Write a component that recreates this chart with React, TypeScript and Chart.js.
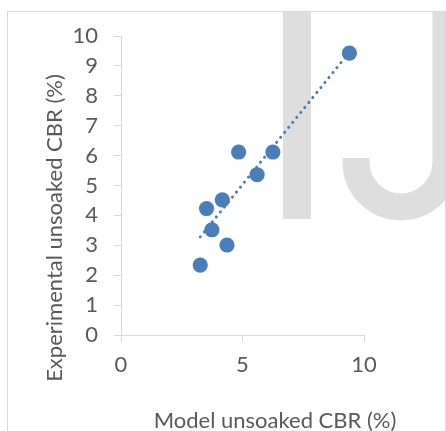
import React, { useEffect, useRef } from "react";
import { Chart, registerables } from "chart.js";

Chart.register(...registerables);

// Data
const modelCBR = [9.4, 4.84, 6.25, 5.6, 4.17, 3.52, 3.74, 4.36, 3.26];
const experimentalCBR = [9.43, 6.12, 6.12, 5.36, 4.52, 4.23, 3.52, 3.01, 2.34];
const trendX = [3.26, 9.4];
const trendY = [3.28, 9.46];
const xTickValues = [0, 5, 10];
const yTickValues = [0, 1, 2, 3, 4, 5, 6, 7, 8, 9, 10];
const xTitle = "Model unsoaked CBR (%)";
const yTitle = "Experimental unsoaked CBR (%)";

const BLUE = "#4a7ebb";
const GREY_TEXT = "#595959";
const AXIS = "#d9d9d9";
const WATERMARK = "#dedede";
const FONT = "Lato";

const decor = {
  id: "decor",
  beforeDatasetsDraw(chart: any) {
    const ctx = chart.ctx as CanvasRenderingContext2D;
    ctx.save();
    // watermark "IJ"
    ctx.fillStyle = WATERMARK;
    ctx.fillRect(283, 12, 28, 207);
    ctx.strokeStyle = WATERMARK;
    ctx.lineWidth = 27;
    ctx.lineCap = "butt";
    ctx.beginPath();
    ctx.moveTo(446, 12);
    ctx.lineTo(446, 162);
    ctx.arc(401, 162, 45, 0, Math.PI, false);
    ctx.lineTo(356, 158);
    ctx.stroke();
    // frame
    ctx.strokeStyle = AXIS;
    ctx.lineWidth = 1;
    ctx.strokeRect(7.5, 11.5, 438, 600);
    // axis titles
    ctx.fillStyle = GREY_TEXT;
    ctx.font = `22px ${FONT}`;
    ctx.textAlign = "center";
    ctx.textBaseline = "alphabetic";
    ctx.fillText(xTitle, 275, 427.5);
    ctx.translate(62, 228);
    ctx.rotate(-Math.PI / 2);
    ctx.fillText(yTitle, 0, 0);
    ctx.restore();
  },
};

export default function App() {
  const ref = useRef<HTMLCanvasElement | null>(null);
  useEffect(() => {
    document.body.style.margin = "0";
    if (!ref.current) return;
    const chart = new Chart(ref.current, {
      type: "scatter",
      data: {
        datasets: [
          {
            label: "Trend",
            data: trendX.map((x, i) => ({ x, y: trendY[i] })),
            showLine: true,
            borderColor: BLUE,
            borderWidth: 3,
            borderDash: [0.1, 6.3],
            borderCapStyle: "round",
            pointRadius: 0,
            order: 0,
          },
          {
            label: "CBR",
            data: modelCBR.map((x, i) => ({ x, y: experimentalCBR[i] })),
            backgroundColor: BLUE,
            borderColor: BLUE,
            borderWidth: 0,
            pointRadius: 7.6,
            order: 1,
          },
        ],
      },
      options: {
        responsive: false,
        animation: false,
        events: [],
        layout: { padding: { top: 36, right: 82, left: 0, bottom: 0 } },
        plugins: { legend: { display: false }, tooltip: { enabled: false } },
        scales: {
          x: {
            type: "linear",
            min: 0,
            max: 10,
            afterBuildTicks: (s: any) => {
              s.ticks = xTickValues.map((v) => ({ value: v }));
            },
            afterFit: (s: any) => {
              s.height = 96;
            },
            ticks: {
              color: GREY_TEXT,
              font: { family: FONT, size: 22 },
              padding: 10,
            },
            grid: { drawOnChartArea: false, drawTicks: true, tickLength: 7, color: AXIS },
            border: { color: AXIS, width: 1 },
          },
          y: {
            type: "linear",
            min: 0,
            max: 10,
            afterBuildTicks: (s: any) => {
              s.ticks = yTickValues.map((v) => ({ value: v }));
            },
            afterFit: (s: any) => {
              s.width = 121;
            },
            ticks: {
              color: GREY_TEXT,
              font: { family: FONT, size: 22 },
              padding: 16,
            },
            grid: { drawOnChartArea: false, drawTicks: true, tickLength: 7, color: AXIS },
            border: { color: AXIS, width: 1 },
          },
        },
      },
      plugins: [decor],
    } as any);
    return () => chart.destroy();
  }, []);
  return (
    <div style={{ width: 446, height: 431 }}>
      <canvas ref={ref} width={446} height={431} style={{ display: "block" }} />
    </div>
  );
}
